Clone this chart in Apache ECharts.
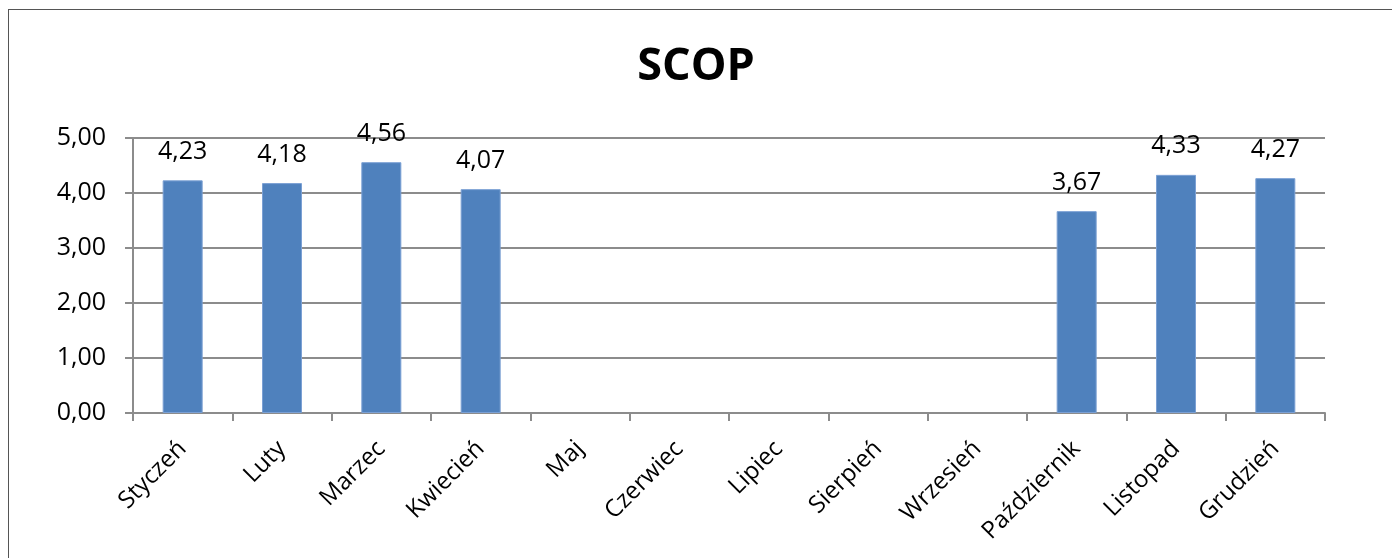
<!DOCTYPE html>
<html><head><meta charset="utf-8">
<script src="https://cdn.jsdelivr.net/npm/echarts@6/dist/echarts.min.js"></script>
<style>html,body{margin:0;padding:0;background:#fff}#c{width:1392px;height:558px}
#frame{position:absolute;left:8px;top:9px;width:1400px;height:600px;border:1.5px solid #555;box-sizing:border-box;pointer-events:none}</style>
</head><body><div id="c"></div><div id="frame"></div>
<script>
const title = 'SCOP';
const months = ['Styczeń','Luty','Marzec','Kwiecień','Maj','Czerwiec','Lipiec','Sierpień','Wrzesień','Październik','Listopad','Grudzień'];
const scop = [4.23, 4.18, 4.56, 4.07, null, null, null, null, null, 3.67, 4.33, 4.27];
const yTicks = [0, 1, 2, 3, 4, 5];
const fmt = v => v.toFixed(2).replace('.', ',');
const font = '"Open Sans", "Noto Sans", sans-serif';
const chart = echarts.init(document.getElementById('c'));
chart.setOption({
  animation: false,
  backgroundColor: '#fff',
  title: {text: title, left: 'center', top: 40, textStyle: {fontFamily: font, fontSize: 45, fontWeight: 'bold', color: '#000'}},
  grid: {left: 133, right: 67, top: 138, bottom: 145},
  xAxis: {
    type: 'category', data: months, boundaryGap: true,
    axisLine: {lineStyle: {color: '#8c8c8c', width: 2}},
    axisTick: {show: true, length: 8, alignWithLabel: false, lineStyle: {color: '#8c8c8c', width: 2}},
    axisLabel: {rotate: 45, interval: 0, margin: 32, fontFamily: font, fontSize: 24, color: '#000'}
  },
  yAxis: {
    type: 'value', min: yTicks[0], max: yTicks[yTicks.length - 1], interval: 1,
    axisLine: {show: true, lineStyle: {color: '#8c8c8c', width: 2}},
    axisTick: {show: true, length: 8, lineStyle: {color: '#8c8c8c', width: 2}},
    splitLine: {lineStyle: {color: '#8c8c8c', width: 2}},
    axisLabel: {formatter: v => fmt(v), margin: 27, fontFamily: font, fontSize: 25, color: '#000'}
  },
  series: [{
    type: 'bar', data: scop, barWidth: 40,
    itemStyle: {color: '#4f81bd', borderColor: '#7ba0d4', borderWidth: 1},
    label: {show: true, position: 'top', distance: 16, formatter: p => fmt(p.value), fontFamily: font, fontSize: 25, color: '#000'}
  }]
});
</script></body></html>
